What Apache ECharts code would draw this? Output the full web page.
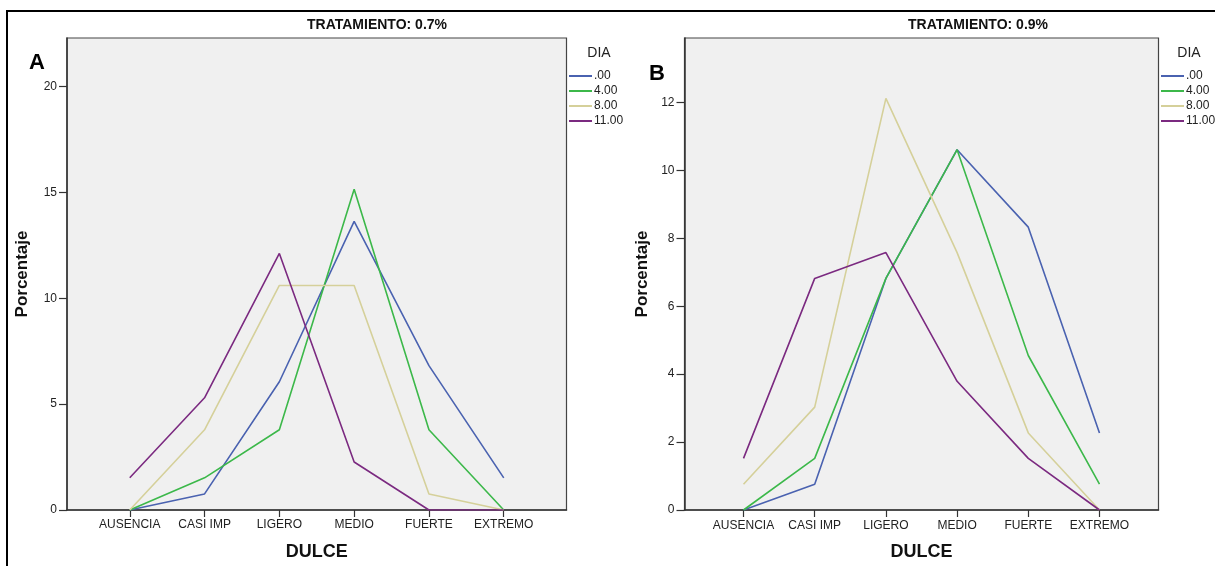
<!DOCTYPE html>
<html>
<head>
<meta charset="utf-8">
<script src="https://cdn.jsdelivr.net/npm/echarts@6/dist/echarts.min.js"></script>
<style>
html,body{margin:0;padding:0;background:#fff;}
#c{width:1215px;height:566px;}
</style>
</head>
<body>
<div id="c"></div>
<script>
// ---- data ----
const categories = ['AUSENCIA', 'CASI IMP', 'LIGERO', 'MEDIO', 'FUERTE', 'EXTREMO'];
const seriesNames = ['.00', '4.00', '8.00', '11.00'];
const titleA = 'TRATAMIENTO: 0.7%';
const titleB = 'TRATAMIENTO: 0.9%';
// Panel A (0.7%)
const a_d00 = [0, 0.76, 6.06, 13.64, 6.82, 1.52];
const a_d04 = [0, 1.52, 3.79, 15.15, 3.79, 0];
const a_d08 = [0, 3.79, 10.61, 10.61, 0.76, 0];
const a_d11 = [1.52, 5.30, 12.12, 2.27, 0, 0];
// Panel B (0.9%)
const b_d00 = [0, 0.76, 6.82, 10.61, 8.33, 2.27];
const b_d04 = [0, 1.52, 6.82, 10.61, 4.55, 0.76];
const b_d08 = [0.76, 3.03, 12.12, 7.58, 2.27, 0];
const b_d11 = [1.52, 6.82, 7.58, 3.79, 1.52, 0];
const yTicksA = [0, 5, 10, 15, 20];
const yTicksB = [0, 2, 4, 6, 8, 10, 12];

const colors = ['#4A62B0', '#3CB84A', '#D5D09A', '#7B2A80'];
const font = '"Liberation Sans", Arial, sans-serif';

const chart = echarts.init(document.getElementById('c'), null, {renderer: 'canvas'});

function pairs(arr) { return arr.map((v, i) => [i, v]); }
function xAxis(gridIndex, pad, margin) {
  return {
    type: 'value', gridIndex: gridIndex,
    min: -pad, max: categories.length - 1 + pad,
    name: 'DULCE', nameLocation: 'middle', nameGap: 33,
    nameTextStyle: {fontFamily: font, fontWeight: 'bold', fontSize: 18, color: '#111'},
    axisLine: {show: true, onZero: false, lineStyle: {color: '#333', width: 1.5}},
    axisTick: {show: true, length: 7, lineStyle: {color: '#333', width: 1.2}, customValues: categories.map((c, i) => i)},
    axisLabel: {show: true, margin: margin, fontFamily: font, fontSize: 12, color: '#222',
      customValues: categories.map((c, i) => i),
      formatter: v => categories[Math.round(v)] || ''},
    splitLine: {show: false}
  };
}
function yAxis(gridIndex, max, ticks, gap) {
  return {
    type: 'value', gridIndex: gridIndex, min: 0, max: max,
    name: 'Porcentaje', nameLocation: 'middle', nameGap: gap,
    nameTextStyle: {fontFamily: font, fontWeight: 'bold', fontSize: 17, color: '#111'},
    axisLine: {show: true, onZero: false, lineStyle: {color: '#333', width: 1.5}},
    axisTick: {show: true, length: 8, lineStyle: {color: '#333', width: 1.2}, customValues: ticks},
    axisLabel: {show: true, margin: 10, fontFamily: font, fontSize: 12, color: '#222', customValues: ticks},
    splitLine: {show: false}
  };
}
function line(name, data, idx, color) {
  return {
    type: 'line', name: name, xAxisIndex: idx, yAxisIndex: idx,
    data: pairs(data), symbol: 'none', color: color,
    lineStyle: {width: 1.6, color: color}, animation: false
  };
}
function legend(left) {
  return {
    orient: 'vertical', left: left, top: 69,
    data: seriesNames, icon: 'rect', itemWidth: 23, itemHeight: 2, itemGap: 1,
    padding: 0,
    textStyle: {fontFamily: font, fontSize: 12, color: '#222', lineHeight: 14, padding: [0, 0, 0, -3]},
    selectedMode: false
  };
}

const option = {
  animation: false,
  backgroundColor: '#fff',
  grid: [
    {left: 67, top: 38, width: 499.5, height: 472, show: true, backgroundColor: '#F0F0F0', borderColor: '#444', borderWidth: 1.2},
    {left: 684.5, top: 38, width: 474, height: 474.6, show: true, backgroundColor: '#F0F0F0', borderColor: '#444', borderWidth: 1.2}
  ],
  xAxis: [xAxis(0, 0.839, 9), xAxis(1, 0.829, 10)],
  yAxis: [yAxis(0, 22.3, yTicksA, 36), yAxis(1, 13.9, yTicksB, 34)],
  legend: [legend(569), legend(1161)],
  series: [
    line(seriesNames[0], a_d00, 0, colors[0]),
    line(seriesNames[1], a_d04, 0, colors[1]),
    line(seriesNames[2], a_d08, 0, colors[2]),
    line(seriesNames[3], a_d11, 0, colors[3]),
    line(seriesNames[0], b_d00, 1, colors[0]),
    line(seriesNames[1], b_d04, 1, colors[1]),
    line(seriesNames[2], b_d08, 1, colors[2]),
    line(seriesNames[3], b_d11, 1, colors[3])
  ],
  graphic: [
    {type: 'rect', silent: true, shape: {x: 7, y: 11, width: 1300, height: 700},
     style: {fill: null, stroke: '#000', lineWidth: 2}},
    {type: 'text', x: 377, y: 25, style: {text: titleA, font: 'bold 14px ' + font, fill: '#111', align: 'center', verticalAlign: 'middle'}},
    {type: 'text', x: 978, y: 25, style: {text: titleB, font: 'bold 14px ' + font, fill: '#111', align: 'center', verticalAlign: 'middle'}},
    {type: 'text', x: 37, y: 63, style: {text: 'A', font: 'bold 22px ' + font, fill: '#000', align: 'center', verticalAlign: 'middle'}},
    {type: 'text', x: 657, y: 74, style: {text: 'B', font: 'bold 22px ' + font, fill: '#000', align: 'center', verticalAlign: 'middle'}},
    {type: 'text', x: 599, y: 53, style: {text: 'DIA', font: '14px ' + font, fill: '#222', align: 'center', verticalAlign: 'middle'}},
    {type: 'text', x: 1189, y: 53, style: {text: 'DIA', font: '14px ' + font, fill: '#222', align: 'center', verticalAlign: 'middle'}}
  ]
};
chart.setOption(option);
</script>
</body>
</html>
